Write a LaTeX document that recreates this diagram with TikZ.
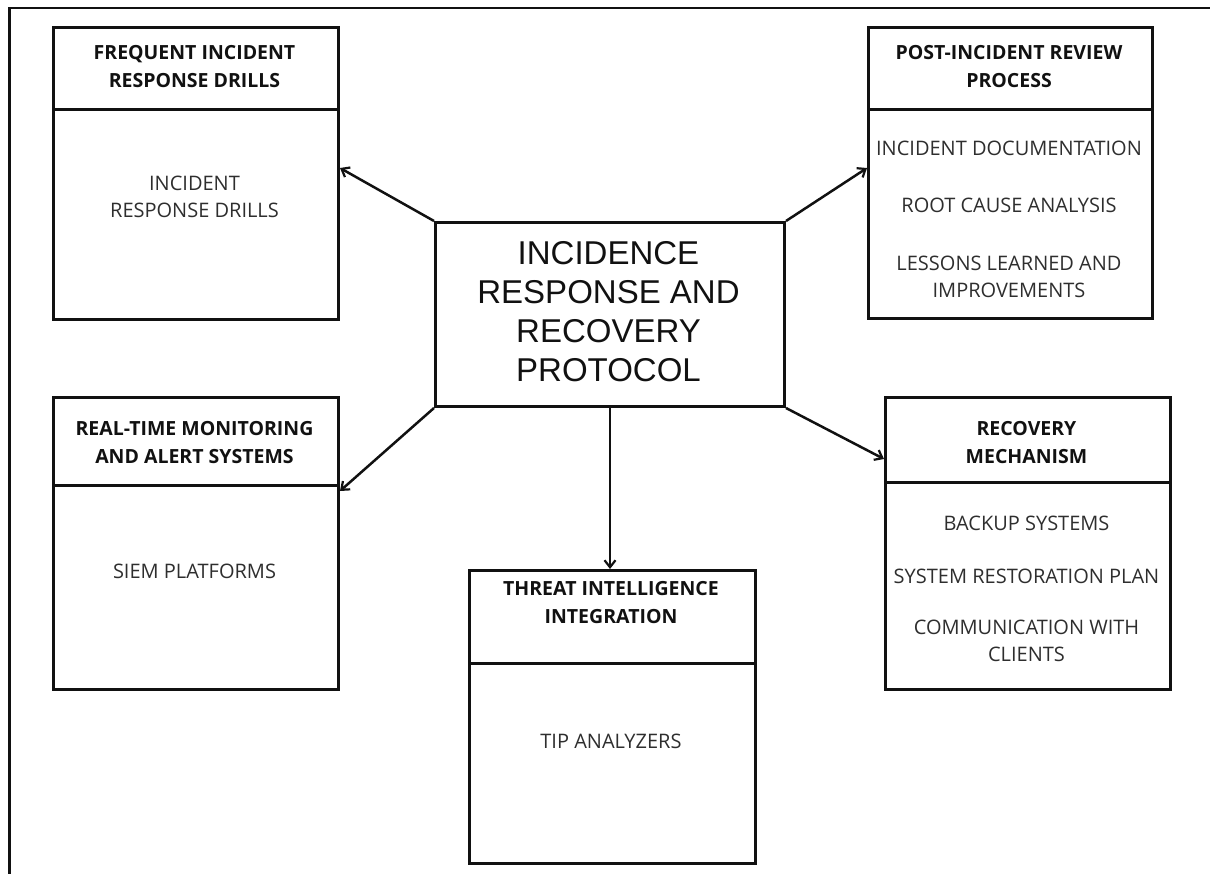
\documentclass[tikz,border=0pt]{standalone}
\usepackage{fontspec}
\setmainfont{Open Sans}
\newfontfamily\centerfont{Liberation Sans}
\usetikzlibrary{arrows.meta,calc}
\definecolor{ink}{HTML}{111111}
\definecolor{bodyink}{HTML}{2E2E2E}
\tikzset{
  boxpart/.style={draw=ink, line width=3pt, inner sep=0pt, anchor=north west},
  headtext/.style={font=\fontsize{19.5}{28}\selectfont\bfseries, text=ink, align=center},
  bodytext/.style={font=\fontsize{20}{27}\selectfont, text=bodyink, align=center},
  conn/.style={draw=ink, line width=2.5pt, -{Straight Barb[length=7pt,width=11pt,line width=2.2pt]}},
  frameline/.style={draw=ink, line width=2.8pt}
}
\begin{document}
\begin{tikzpicture}[x=1pt,y=-1pt]
\useasboundingbox (0,0) rectangle (1210,874);
% outer frame (top and left visible)
\coordinate (fa) at (1212,8);
\coordinate (fb0) at (9.5,8);
\coordinate (fc) at (9.5,876);
\draw[frameline] (fa) -- (fb0) -- (fc);

% Frequent incident response drills
\node[boxpart, minimum width=285pt, minimum height=82pt] (fh) at (52,26) {};
\node[boxpart, minimum width=285pt, minimum height=210pt] (fbd) at (52,108) {};
\node[headtext] (fht) at (194.5,67) {FREQUENT INCIDENT\\RESPONSE DRILLS};
\node[bodytext] (fbt) at (194.5,197) {INCIDENT\\RESPONSE DRILLS};

% Post-incident review process
\node[boxpart, minimum width=284pt, minimum height=82pt] (ph) at (867,26) {};
\node[boxpart, minimum width=284pt, minimum height=209pt] (pbd) at (867,108) {};
\node[headtext] (pht) at (1009,67) {POST-INCIDENT REVIEW\\PROCESS};
\node[bodytext] (pb1) at (1009,148) {INCIDENT DOCUMENTATION};
\node[bodytext] (pb2) at (1009,205) {ROOT CAUSE ANALYSIS};
\node[bodytext] (pb3) at (1009,277) {LESSONS LEARNED AND\\IMPROVEMENTS};

% Centre
\node[draw=ink, line width=3pt, minimum width=349pt, minimum height=184pt, anchor=north west] (c) at (434,221) {};
\node[font=\centerfont\fontsize{33}{38.8}\selectfont, text=ink, align=center] (ct) at (608.5,311.5) {INCIDENCE\\RESPONSE AND\\RECOVERY\\PROTOCOL};

% Real-time monitoring
\node[boxpart, minimum width=285pt, minimum height=88pt] (rh) at (52,396) {};
\node[boxpart, minimum width=285pt, minimum height=204pt] (rbd) at (52,484) {};
\node[headtext] (rht) at (194.5,442.5) {REAL-TIME MONITORING\\AND ALERT SYSTEMS};
\node[bodytext] (rbt) at (194.5,571) {SIEM PLATFORMS};

% Recovery mechanism
\node[boxpart, minimum width=285pt, minimum height=85pt] (vh) at (884,396) {};
\node[boxpart, minimum width=285pt, minimum height=207pt] (vbd) at (884,481) {};
\node[headtext] (vht) at (1026.5,443) {RECOVERY\\MECHANISM};
\node[bodytext] (vb1) at (1026.5,523) {BACKUP SYSTEMS};
\node[bodytext] (vb2) at (1026.5,576) {SYSTEM RESTORATION PLAN};
\node[bodytext] (vb3) at (1026.5,641) {COMMUNICATION WITH\\CLIENTS};

% Threat intelligence
\node[boxpart, minimum width=286pt, minimum height=93pt] (th) at (468,569) {};
\node[boxpart, minimum width=286pt, minimum height=200pt] (tbd) at (468,662) {};
\node[headtext] (tht) at (611,603) {THREAT INTELLIGENCE\\INTEGRATION};
\node[bodytext] (tbt) at (611,741) {TIP ANALYZERS};

% connectors
\draw[conn] (c.north west) -- (fbd.east |- 0,168);
\draw[conn] (c.north east) -- (pbd.west |- 0,168);
\draw[conn] (c.south west) -- (rbd.east |- 0,491);
\draw[conn] (c.south east) -- (vh.west |- 0,459);
\draw[conn] (c.south -| 610,0) -- (th.north -| 610,0);
\end{tikzpicture}
\end{document}
